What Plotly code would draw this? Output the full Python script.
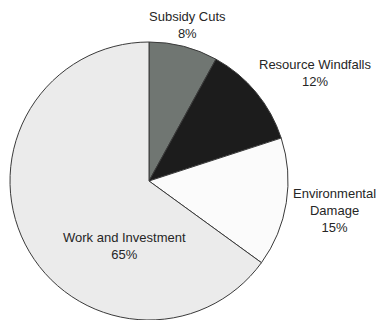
import plotly.graph_objects as go

labels = ["Subsidy Cuts", "Resource Windfalls", "Environmental Damage", "Work and Investment"]
values = [8, 12, 15, 65]
label_lines = ["Subsidy Cuts", "Resource Windfalls", "Environmental<br>Damage", "Work and Investment"]
colors = ["#707672", "#1c1c1c", "#fbfbfb", "#ebebeb"]

# label anchor positions (pixels)
label_x = [187, 315, 334, 124]
label_y = [25, 73, 210, 246]

fig = go.Figure()
fig.add_trace(go.Pie(
    labels=labels, values=values, sort=False, direction="clockwise", rotation=0,
    marker=dict(colors=colors, line=dict(color="#3a3a3a", width=1)),
    textinfo="none", hoverinfo="label+percent", showlegend=False,
    domain=dict(x=[9/380, 289/380], y=[0, 278/320]),
))

for lab, v, x, y in zip(label_lines, values, label_x, label_y):
    fig.add_annotation(
        x=x/380, y=1 - y/320, xref="paper", yref="paper",
        text=f"{lab}<br>{v}%", showarrow=False, align="center",
        xanchor="center", yanchor="middle",
        font=dict(family="Liberation Sans, Arial, sans-serif", size=13, color="#262626"),
    )

fig.update_layout(
    width=380, height=320, margin=dict(l=0, r=0, t=0, b=0),
    paper_bgcolor="white", plot_bgcolor="white",
)
fig.write_html("out.html")
